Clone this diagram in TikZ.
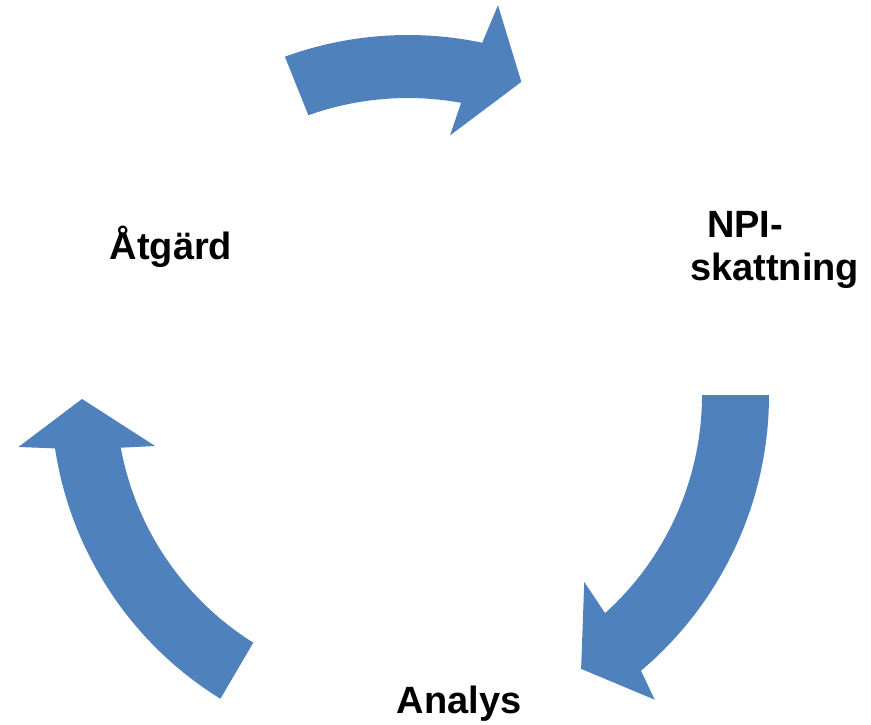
\documentclass[tikz,border=0pt]{standalone}
\usepackage{fontspec}
\setmainfont{Liberation Sans}
\definecolor{arrowblue}{HTML}{4F81BD}
\begin{document}
\begin{tikzpicture}[x=1pt,y=1pt,
  cyclearrow/.style={fill=arrowblue, draw=none},
  labeltext/.style={font=\fontsize{38}{43}\selectfont\bfseries, inner sep=0pt, text=black}]
\fill[white] (0,-724) rectangle (871,0);
\useasboundingbox (0,-724) rectangle (871,0);
\coordinate (ctr) at (408,-395);
\begin{scope}[shift={(ctr)}]
  % top arrow
  \fill[cyclearrow] (110:360) arc[start angle=110,end angle=78.1,radius=360pt]
    -- (77:400) -- (70.1:333) -- (80.8:263) -- (79.7:297)
    arc[start angle=79.7,end angle=109.6,radius=297pt] -- cycle;
  % right arrow
  \fill[cyclearrow] (0:361) arc[start angle=0,end angle=-49.8,radius=361pt]
    -- (-51:392) -- (-57.7:324) -- (-46.7:257) -- (-47.9:294)
    arc[start angle=-47.9,end angle=0,radius=294pt] -- cycle;
  % left arrow
  \fill[cyclearrow] (238.3:357) arc[start angle=238.3,end angle=188.6,radius=357pt]
    -- (187.6:393) -- (180.7:326) -- (191.4:258) -- (190.4:292)
    arc[start angle=190.4,end angle=238,radius=292pt] -- cycle;
\end{scope}
\node[labeltext, anchor=base] (atgard) at (171,-259) {Åtgärd};
\node[labeltext, anchor=base west, align=left] (npi) at (690,-280) {\hspace*{17pt}NPI-\\skattning};
\node[labeltext, anchor=base] (analys) at (459,-713) {Analys};
\end{tikzpicture}
\end{document}
